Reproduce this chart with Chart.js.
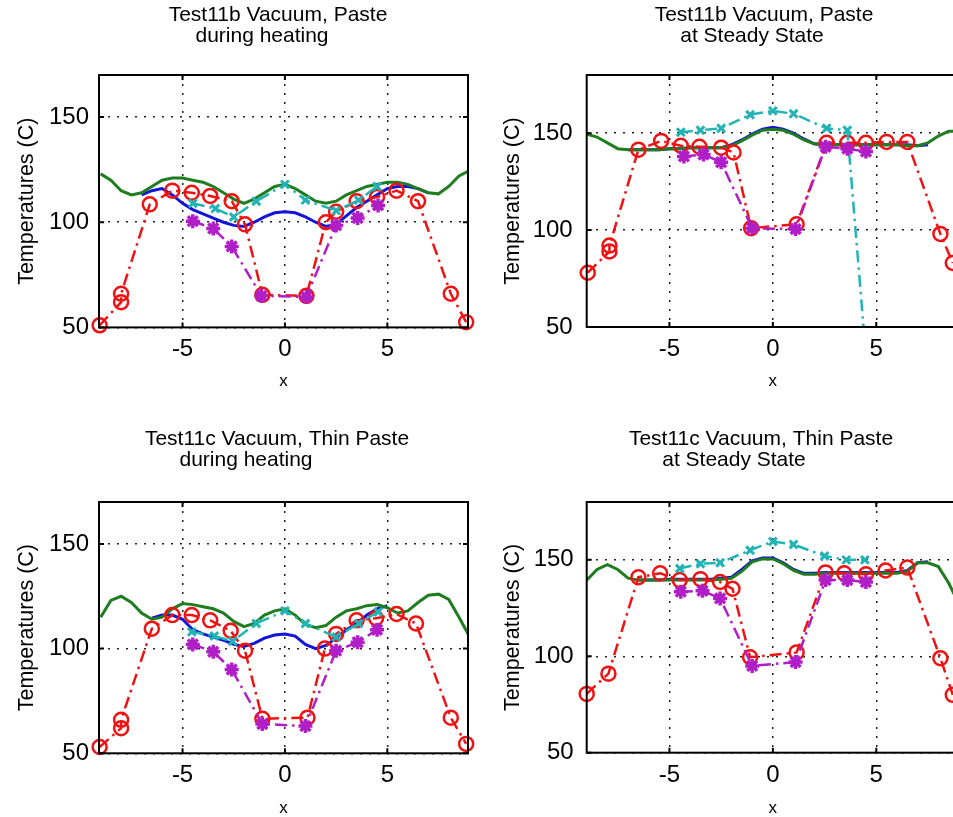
<!DOCTYPE html>
<html lang="en">
<head>
<meta charset="utf-8">
<title>Test11 temperature profiles</title>
<script src="https://cdn.jsdelivr.net/npm/chart.js@4.4.1/dist/chart.umd.min.js"></script>
<style>
  html, body { margin: 0; padding: 0; background: #fff; }
  body { position: relative; width: 953px; height: 817px; overflow: hidden; }
  canvas { position: absolute; }
</style>
</head>
<body>
<canvas id="chartHeat11b" width="480" height="400" style="left:0px;top:0px"></canvas>
<canvas id="chartSteady11b" width="491" height="400" style="left:480px;top:0px"></canvas>
<canvas id="chartHeat11c" width="480" height="400" style="left:0px;top:427px"></canvas>
<canvas id="chartSteady11c" width="491" height="400" style="left:480px;top:427px"></canvas>
<script>
const FONT = "'Liberation Sans', Arial, sans-serif";

const xTicks = [-5, 0, 5];
const yTicks = [50, 100, 150];

// x positions of the densely sampled curves (green, full length)
const xModel = [-9, -8.5, -8, -7.5, -7, -6.5, -6, -5.5, -5, -4.5, -4, -3.5, -3, -2.5, -2, -1.5, -1, -0.5,
    0, 0.5, 1, 1.5, 2, 2.5, 3, 3.5, 4, 4.5, 5, 5.5, 6, 6.5, 7, 7.5, 8, 8.5, 9];

// ---- Test11b, during heating ----
const heat11bGreen = [123, 120, 115, 113, 114, 117, 120, 121, 121, 120, 119, 117, 114, 111, 109, 111, 114, 117,
    118, 116, 113, 110, 109, 110, 113, 115, 117, 118, 119, 119, 118, 116, 114, 113.5, 117, 122, 124.5];
const heat11bBlueX = [-7, -6.5, -6, -5.5, -5, -4.5, -4, -3.5, -3, -2.5, -2, -1.5, -1, -0.5,
    0, 0.5, 1, 1.5, 2, 2.5, 3, 3.5, 4, 4.5, 5, 5.5, 6, 6.5, 7];
const heat11bBlue = [113, 115, 116, 113, 109, 106, 104, 102, 100, 98.5, 98, 100, 102.5, 104.5,
    105, 104.5, 102.5, 100, 98, 99, 103, 107, 110, 113, 116, 117, 117, 116, 114];
const heat11bCyanX = [-4.5, -3.4, -2.5, -1.4, 0, 1.0, 2.5, 3.6, 4.5];
const heat11bCyan = [109, 106.5, 102.5, 110, 118, 110.5, 105.5, 110.5, 117];
const heat11bMagentaX = [-4.5, -3.5, -2.6, -1.15, 1.05, 2.5, 3.55, 4.55];
const heat11bMagenta = [100.5, 97, 88.5, 65, 64.5, 98.5, 102, 108];
const heat11bRedX = [-9.05, -8, -8, -6.6, -5.5, -4.55, -3.65, -2.6, -1.95, -1.1, 1.05, 2.0, 2.5, 3.5, 4.5, 5.45, 6.5, 8.1, 8.85];
const heat11bRed = [51, 62, 66, 108.5, 115, 114, 112.5, 110, 99, 65.5, 65, 100, 105, 110, 112, 115, 110, 66, 52.5];

// ---- Test11b, steady state ----
const steady11bGreen = [149.5, 148, 145, 142, 141.5, 141.5, 141.5, 141.5, 142, 142, 142.5, 142.5, 142.5, 142.5, 143.5, 146, 149, 151.5,
    152, 151.5, 149.5, 146.5, 144.5, 144, 144, 144, 144, 144, 144, 144, 144, 143.5, 143.5, 145, 148.5, 151, 151];
const steady11bBlueX = [-7, -6.5, -6, -5.5, -5, -4.5, -4, -3.5, -3, -2.5, -2, -1.5, -1, -0.5,
    0, 0.5, 1, 1.5, 2, 2.5, 3, 3.5, 4, 4.5, 5, 5.5, 6, 6.5, 7, 7.5];
const steady11bBlue = [141.5, 141.5, 141.5, 141.5, 142, 142, 142.5, 142.5, 142.5, 142.5, 144, 146.5, 149.5, 152,
    153, 152, 150, 147, 144.5, 144, 144, 144, 144, 144, 144, 144, 144, 144, 143.5, 144];
const steady11bCyanX = [-4.45, -3.5, -2.5, -1.1, 0, 1.0, 2.6, 3.6, 4.5];
const steady11bCyan = [150.5, 151.5, 152.5, 159.5, 161.5, 160, 152.5, 151.5, 35];
const steady11bMagentaX = [-4.3, -3.35, -2.5, -1.0, 1.1, 2.55, 3.6, 4.5];
const steady11bMagenta = [138, 139, 135, 101, 100.5, 143, 142, 140.5];
const steady11bRedX = [-8.95, -7.9, -7.9, -6.5, -5.4, -4.45, -3.55, -2.5, -1.9, -1.05, 1.15, 2.6, 3.6, 4.5, 5.5, 6.5, 8.1, 8.7];
const steady11bRed = [78, 89, 92, 141.5, 146, 143.5, 143, 142.5, 140, 101, 103, 145, 145, 145, 145.5, 145.5, 98, 83];

// ---- Test11c, during heating ----
const heat11cGreen = [115, 123, 125, 122, 117, 114, 115, 119, 121.5, 121, 120, 119, 117, 113, 110.5, 112, 116, 118,
    119, 116, 111.5, 110, 111, 115, 118, 119, 120.5, 121, 119.5, 117, 118, 122, 125.5, 126, 123.5, 115, 106];
const heat11cBlueX = [-6.5, -6, -5.5, -5, -4.5, -4, -3.5, -3, -2.5, -2, -1.5, -1, -0.5,
    0, 0.5, 1, 1.5, 2, 2.5, 3, 3.5, 4, 4.5, 5];
const heat11cBlue = [114.5, 116, 116, 114, 109, 107, 105.5, 104, 102, 101, 102.5, 105, 106.5,
    107, 106, 102, 100, 101.5, 105, 109, 112, 116, 119, 120.5];
const heat11cCyanX = [-4.55, -3.45, -2.55, -1.4, 0, 1.0, 2.5, 3.6, 4.55];
const heat11cCyan = [108, 106, 103.5, 112, 118, 112, 105.5, 112, 117.5];
const heat11cMagentaX = [-4.5, -3.5, -2.6, -1.1, 1.0, 2.5, 3.55, 4.5];
const heat11cMagenta = [102, 98.5, 90, 64, 63, 99, 103, 109];
const heat11cRedX = [-9.05, -8, -8, -6.5, -5.5, -4.55, -3.65, -2.65, -1.95, -1.1, 1.1, 1.95, 2.5, 3.5, 4.45, 5.45, 6.4, 8.1, 8.85];
const heat11cRed = [53, 62, 66, 109.5, 116, 116, 113.5, 108.5, 99, 66.5, 67, 100, 107, 113.5, 114.5, 116.5, 112, 67, 54.5];

// ---- Test11c, steady state ----
const steady11cGreen = [139.5, 145, 147.5, 145, 140.5, 139.5, 139.5, 139.5, 139.5, 139.5, 139.5, 139.5, 139.5, 140, 140.5, 144, 149, 150.5,
    150.5, 148, 144.5, 142.5, 142.5, 143, 143, 143, 143, 143, 143, 143, 143, 144, 148.5, 148.5, 146.5, 138, 127];
const steady11cBlueX = [-6.5, -6, -5.5, -5, -4.5, -4, -3.5, -3, -2.5, -2, -1.5, -1, -0.5,
    0, 0.5, 1, 1.5, 2, 2.5, 3, 3.5, 4, 4.5, 5, 5.5, 6, 6.5, 7, 7.5];
const steady11cBlue = [139.5, 139.5, 139.5, 140, 140, 140, 140, 140, 140.5, 141, 145, 149.5, 151,
    151, 148.5, 145, 143, 143, 143.5, 143.5, 143.5, 143.5, 143.5, 143.5, 143.5, 143.5, 144.5, 148.5, 149];
const steady11cCyanX = [-4.5, -3.5, -2.55, -1.1, 0, 1.0, 2.5, 3.55, 4.45];
const steady11cCyan = [145.5, 148, 148.5, 155, 159.5, 158, 152, 150, 150];
const steady11cMagentaX = [-4.45, -3.4, -2.55, -1.0, 1.1, 2.55, 3.6, 4.5];
const steady11cMagenta = [133.5, 134, 130, 95, 97, 139.5, 139.5, 138.5];
const steady11cRedX = [-9, -7.95, -6.5, -5.45, -4.5, -3.5, -2.55, -1.95, -1.1, 1.15, 2.55, 3.45, 4.5, 5.45, 6.5, 8.1, 8.7];
const steady11cRed = [80.5, 91, 141, 143, 139.5, 140, 138.5, 135, 99.5, 102, 143.5, 143, 142.5, 144.5, 146, 99, 80];

const toPoints = (xs, ys) => xs.map((x, i) => ({ x: x, y: ys[i] }));

const dashDot = [12, 5, 2.5, 5];

// solid box around the plot area with short inward ticks
const axesBox = {
    id: 'axesBox',
    afterDraw(chart) {
        const { ctx, chartArea: a, scales } = chart;
        ctx.save();
        ctx.strokeStyle = '#000';
        ctx.lineWidth = 2;
        ctx.setLineDash([]);
        ctx.strokeRect(a.left, a.top, a.right - a.left, a.bottom - a.top);
        ctx.beginPath();
        xTicks.forEach(v => {
            const px = scales.x.getPixelForValue(v);
            ctx.moveTo(px, a.bottom); ctx.lineTo(px, a.bottom - 5);
            ctx.moveTo(px, a.top); ctx.lineTo(px, a.top + 5);
        });
        yTicks.forEach(v => {
            const py = scales.y.getPixelForValue(v);
            ctx.moveTo(a.left, py); ctx.lineTo(a.left + 5, py);
            ctx.moveTo(a.right, py); ctx.lineTo(a.right - 5, py);
        });
        ctx.stroke();
        ctx.restore();
    }
};

// two-line heading, each line placed on its own centre
const panelTitle = {
    id: 'panelTitle',
    afterDraw(chart, args, opts) {
        const { ctx } = chart;
        ctx.save();
        ctx.fillStyle = '#000';
        ctx.font = opts.font;
        ctx.textAlign = 'center';
        ctx.textBaseline = 'middle';
        opts.lines.forEach((line, i) => ctx.fillText(line, opts.x[i], opts.y[i]));
        ctx.restore();
    }
};

const makePanel = (id, p) => {
    const ctx = document.getElementById(id).getContext('2d');
    return new Chart(ctx, {
        type: 'line',
        data: {
            datasets: [
                {
                    label: 'blue',
                    data: toPoints(p.blueX, p.blue),
                    borderColor: '#1414d8',
                    borderWidth: 3,
                    pointRadius: 0,
                    order: 5
                },
                {
                    label: 'green',
                    data: toPoints(xModel, p.green),
                    borderColor: '#1f7d1f',
                    borderWidth: 3,
                    pointRadius: 0,
                    order: 4
                },
                {
                    label: 'red',
                    data: toPoints(p.redX, p.red),
                    borderColor: '#f01212',
                    borderWidth: 2.5,
                    borderDash: dashDot,
                    pointStyle: 'circle',
                    pointRadius: 7,
                    pointBorderWidth: 2.5,
                    pointBorderColor: '#f01212',
                    pointBackgroundColor: 'rgba(0,0,0,0)',
                    clip: false,
                    order: 3
                },
                {
                    label: 'cyan',
                    data: toPoints(p.cyanX, p.cyan),
                    borderColor: '#22b4b4',
                    borderWidth: 2.5,
                    borderDash: dashDot,
                    pointStyle: 'crossRot',
                    pointRadius: 5.5,
                    pointBorderWidth: 3,
                    pointBorderColor: '#22b4b4',
                    order: 2
                },
                {
                    label: 'magenta',
                    data: toPoints(p.magentaX, p.magenta),
                    borderColor: '#b01ec8',
                    borderWidth: 2.5,
                    borderDash: dashDot,
                    pointStyle: 'star',
                    pointRadius: 7,
                    pointBorderWidth: 3.5,
                    pointBorderColor: '#b01ec8',
                    clip: false,
                    order: 1
                }
            ]
        },
        options: {
            responsive: false,
            animation: false,
            events: [],
            layout: { padding: p.padding },
            plugins: {
                legend: { display: false },
                tooltip: { enabled: false },
                panelTitle: {
                    lines: p.title,
                    x: p.titleX,
                    y: p.titleY,
                    font: `21px ${FONT}`
                }
            },
            scales: {
                x: {
                    type: 'linear',
                    min: p.xMin,
                    max: p.xMax,
                    afterBuildTicks: axis => { axis.ticks = xTicks.map(v => ({ value: v })); },
                    afterFit: scale => { scale.height = p.xAxisHeight; },
                    grid: { color: '#222', lineWidth: 1.5, drawTicks: false },
                    border: { display: false, dash: [2, 7] },
                    ticks: { color: '#000', padding: 8, font: { family: FONT, size: 24 } },
                    title: { display: true, text: 'x', color: '#000', padding: 0, font: { family: FONT, size: 17 } }
                },
                y: {
                    type: 'linear',
                    min: 50,
                    max: p.yMax,
                    afterBuildTicks: axis => { axis.ticks = yTicks.map(v => ({ value: v })); },
                    afterFit: scale => { scale.width = p.yAxisWidth; },
                    grid: { color: '#222', lineWidth: 1.5, drawTicks: false },
                    border: { display: false, dash: [2, 7] },
                    ticks: { color: '#000', padding: p.yTickPad, font: { family: FONT, size: 24 } },
                    title: { display: true, text: 'Temperatures (C)', color: '#000', padding: 0, font: { family: FONT, size: 21.5 } }
                }
            }
        },
        plugins: [axesBox, panelTitle]
    });
};

makePanel('chartHeat11b', {
    green: heat11bGreen, blueX: heat11bBlueX, blue: heat11bBlue,
    cyanX: heat11bCyanX, cyan: heat11bCyan, magentaX: heat11bMagentaX, magenta: heat11bMagenta,
    redX: heat11bRedX, red: heat11bRed,
    xMin: -9.08, xMax: 8.94, yMax: 170,
    padding: { left: 14, top: 75, right: 12, bottom: 8 },
    yAxisWidth: 85, xAxisHeight: 64.6, yTickPad: 10,
    title: ['Test11b Vacuum, Paste', 'during heating'], titleX: [278, 262], titleY: [15, 36]
});

makePanel('chartSteady11b', {
    green: steady11bGreen, blueX: steady11bBlueX, blue: steady11bBlue,
    cyanX: steady11bCyanX, cyan: steady11bCyan, magentaX: steady11bMagentaX, magenta: steady11bMagenta,
    redX: steady11bRedX, red: steady11bRed,
    xMin: -9, xMax: 9, yMax: 180,
    padding: { left: 20, top: 75, right: 12, bottom: 8 },
    yAxisWidth: 86.7, xAxisHeight: 65, yTickPad: 14,
    title: ['Test11b Vacuum, Paste', 'at Steady State'], titleX: [284, 272], titleY: [15, 36]
});

makePanel('chartHeat11c', {
    green: heat11cGreen, blueX: heat11cBlueX, blue: heat11cBlue,
    cyanX: heat11cCyanX, cyan: heat11cCyan, magentaX: heat11cMagentaX, magenta: heat11cMagenta,
    redX: heat11cRedX, red: heat11cRed,
    xMin: -9.08, xMax: 8.94, yMax: 170,
    padding: { left: 14, top: 75, right: 12, bottom: 8 },
    yAxisWidth: 85, xAxisHeight: 65.7, yTickPad: 10,
    title: ['Test11c Vacuum, Thin Paste', 'during heating'], titleX: [277, 246], titleY: [12, 33]
});

makePanel('chartSteady11c', {
    green: steady11cGreen, blueX: steady11cBlueX, blue: steady11cBlue,
    cyanX: steady11cCyanX, cyan: steady11cCyan, magentaX: steady11cMagentaX, magenta: steady11cMagenta,
    redX: steady11cRedX, red: steady11cRed,
    xMin: -9, xMax: 9, yMax: 180,
    padding: { left: 20, top: 75, right: 12, bottom: 8 },
    yAxisWidth: 86.7, xAxisHeight: 66.3, yTickPad: 13,
    title: ['Test11c Vacuum, Thin Paste', 'at Steady State'], titleX: [281, 254], titleY: [12, 33]
});
</script>
</body>
</html>
